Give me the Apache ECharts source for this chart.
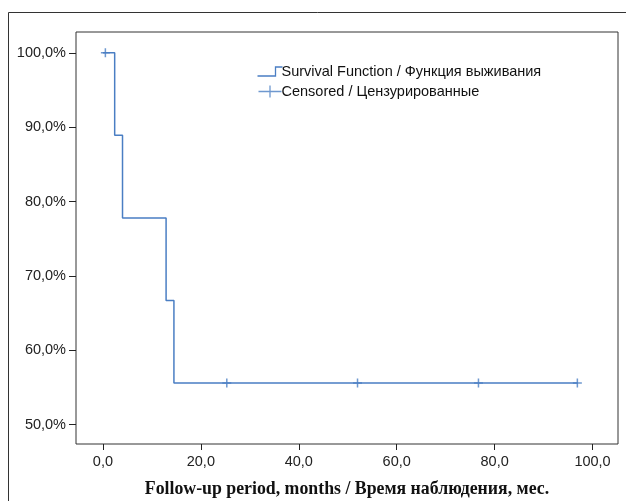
<!DOCTYPE html>
<html>
<head>
<meta charset="utf-8">
<script src="https://cdn.jsdelivr.net/npm/echarts@6/dist/echarts.min.js"></script>
<style>
html,body{margin:0;padding:0;background:#fff;}
#chart{width:626px;height:501px;}
</style>
</head>
<body>
<div id="chart"></div>
<script>
// Kaplan-Meier step points (months, survival %)
const stepTimes  = [0, 2.4, 4.0, 12.9, 14.5, 97.0];
const stepValues = [100, 88.9, 77.8, 66.7, 55.6, 55.6];
// Censored observations
const censTimes  = [0.5, 25.3, 52.0, 76.7, 96.9];
const censValues = [100, 55.6, 55.6, 55.6, 55.6];
// Tick labels
const xTicks = [0, 20, 40, 60, 80, 100];
const yTicks = [50, 60, 70, 80, 90, 100];

const seriesNames = ['Survival Function / Функция выживания', 'Censored / Цензурированные'];
const xName = 'Follow-up period, months / Время наблюдения, мес.';

const blue = '#4a7ec3';
const plusPath = 'path://M0,5L10,5M5,0L5,10';
const stepPath = 'path://M0,10L18,10L18,1L25,1';
const legendPlus = 'path://M0,6L23,6M11.5,0L11.5,12';

const chart = echarts.init(document.getElementById('chart'), null, {renderer:'canvas'});
const fontFam = '"Liberation Sans", Arial, sans-serif';

chart.setOption({
  animation: false,
  backgroundColor: '#fff',
  graphic: [{
    type: 'rect', silent: true, z: -1,
    shape: {x: 8.5, y: 12.5, width: 700, height: 600},
    style: {fill: 'none', stroke: '#333', lineWidth: 1}
  }],
  grid: {left: 76, top: 32, right: 8, bottom: 57, show: true, borderColor: '#333', borderWidth: 1,
    backgroundColor: 'transparent', containLabel: false, outerBoundsMode: 'none'},
  legend: {
    orient: 'vertical', left: 255, top: 64, itemGap: 4, padding: 0,
    itemWidth: 25, itemHeight: 12,
    textStyle: {fontFamily: fontFam, fontSize: 14.5, color: '#111', padding: [0,0,0,-6]},
    data: [
      {name: seriesNames[0], icon: stepPath, itemStyle: {color: 'none', borderColor: blue, borderWidth: 1.3}, lineStyle: {opacity: 0}},
      {name: seriesNames[1], icon: legendPlus, itemStyle: {color: 'none', borderColor: blue, borderWidth: 1.3}, lineStyle: {opacity: 0}}
    ]
  },
  xAxis: {
    type: 'value', min: -5.5, max: 105.2,
    name: xName, nameLocation: 'middle', nameGap: 36,
    nameTextStyle: {fontFamily: '"Liberation Serif", "Times New Roman", serif', fontWeight: 'bold', fontSize: 17.8, color: '#111'},
    axisLine: {show: false, onZero: false},
    splitLine: {show: false},
    axisTick: {show: true, length: 6, lineStyle: {color: '#222'}, customValues: xTicks},
    axisLabel: {fontFamily: fontFam, fontSize: 14.5, color: '#222', margin: 10, customValues: xTicks,
      formatter: v => v.toFixed(1).replace('.', ',')}
  },
  yAxis: {
    type: 'value', min: 47.4, max: 102.8,
    axisLine: {show: false, onZero: false},
    splitLine: {show: false},
    axisTick: {show: true, length: 7, lineStyle: {color: '#222'}, customValues: yTicks},
    axisLabel: {fontFamily: fontFam, fontSize: 14.5, color: '#222', margin: 10, customValues: yTicks,
      formatter: v => v.toFixed(1).replace('.', ',') + '%'}
  },
  series: [
    {
      name: seriesNames[0], type: 'line', step: 'end',
      data: stepTimes.map((t, i) => [t, stepValues[i]]),
      symbol: 'none', lineStyle: {color: blue, width: 1.5}, itemStyle: {color: blue}
    },
    {
      name: seriesNames[1], type: 'scatter',
      data: censTimes.map((t, i) => [t, censValues[i]]),
      symbol: plusPath, symbolSize: [9, 9],
      itemStyle: {color: 'none', borderColor: blue, borderWidth: 1.5}
    }
  ]
});
</script>
</body>
</html>
